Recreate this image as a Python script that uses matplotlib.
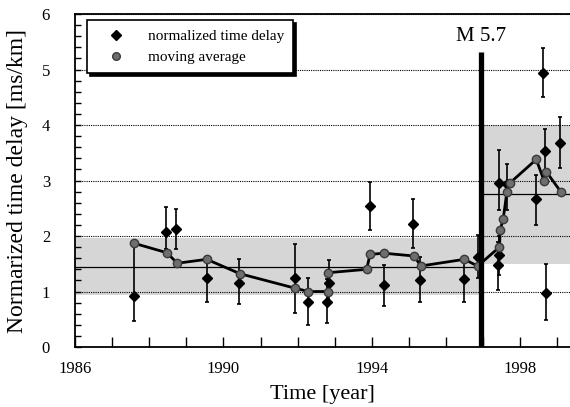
import matplotlib
matplotlib.use('Agg')
import matplotlib.pyplot as plt
import numpy as np
from matplotlib.lines import Line2D
from matplotlib.ticker import MultipleLocator

plt.rcParams['font.family'] = ['Liberation Serif', 'DejaVu Serif']

# normalized time delay (diamonds) with error bar limits
delay_year = [1987.59, 1988.45, 1988.72, 1989.55, 1990.43, 1991.93, 1992.29, 1992.80,
              1992.85, 1993.95, 1994.33, 1995.12, 1995.30, 1996.47, 1996.85, 1997.40,
              1997.42, 1997.44, 1997.63, 1998.43, 1998.62, 1998.67, 1998.70, 1999.07]
delay_val = [0.92, 2.08, 2.13, 1.24, 1.16, 1.24, 0.81, 0.82,
             1.16, 2.54, 1.12, 2.22, 1.21, 1.23, 1.63, 1.47,
             1.65, 2.95, 2.93, 2.66, 4.94, 3.54, 0.98, 3.68]
delay_lo = [0.46, 1.76, 1.77, 0.82, 0.77, 0.61, 0.40, 0.44,
            0.80, 2.11, 0.74, 1.78, 0.82, 0.82, 1.25, 1.03,
            1.30, 2.47, 2.47, 2.20, 4.50, 3.05, 0.49, 3.22]
delay_hi = [1.85, 2.52, 2.49, 1.64, 1.58, 1.85, 1.24, 1.22,
            1.57, 2.98, 1.48, 2.67, 1.62, 1.62, 2.02, 1.90,
            2.00, 3.55, 3.30, 3.10, 5.38, 3.92, 1.49, 4.14]

# moving average (circles)
avg_year = [1987.59, 1988.47, 1988.76, 1989.55, 1990.45, 1991.93, 1992.29, 1992.83,
            1992.83, 1993.86, 1993.95, 1994.33, 1995.14, 1995.32, 1996.49, 1996.85,
            1997.44, 1997.46, 1997.54, 1997.64, 1997.71, 1998.43, 1998.64, 1998.70, 1999.09]
avg_val = [1.87, 1.70, 1.51, 1.58, 1.32, 1.06, 1.00, 1.00,
           1.34, 1.40, 1.67, 1.69, 1.64, 1.46, 1.58, 1.46,
           1.80, 2.11, 2.31, 2.80, 2.95, 3.38, 3.00, 3.16, 2.80]

# earthquake and mean / spread before and after it
eq_year = 1996.93
eq_top = 5.32
eq_label = 'M 5.7'
pre_mean, pre_sd = 1.45, 0.52
post_mean, post_sd = 2.75, 1.25
x_start, x_end = 1986, 1999.34

fig = plt.figure(figsize=(5.7, 4.07), dpi=100)
ax = fig.add_axes([0.1316, 0.1474, 0.8684, 0.818])

# shaded spread bands and mean lines
ax.fill_between([x_start, eq_year], pre_mean - pre_sd, pre_mean + pre_sd,
                color='#d6d6d6', lw=0, zorder=0.2)
ax.fill_between([eq_year, x_end], post_mean - post_sd, post_mean + post_sd,
                color='#d6d6d6', lw=0, zorder=0.2)
ax.plot([x_start, eq_year], [pre_mean, pre_mean], color='k', lw=0.9, zorder=1)
ax.plot([eq_year, x_end], [post_mean, post_mean], color='k', lw=0.9, zorder=1)

# data
yv = np.array(delay_val)
yerr = [yv - np.array(delay_lo), np.array(delay_hi) - yv]
ax.errorbar(delay_year, delay_val, yerr=yerr, fmt='D', color='k', ms=5.5,
            elinewidth=1.2, capsize=1.5, capthick=1.2, zorder=3)
ax.plot(avg_year, avg_val, '-o', color='k', lw=2, ms=6,
        markerfacecolor='#6e6e6e', markeredgecolor='#3a3a3a', zorder=4)

# earthquake marker
ax.plot([eq_year, eq_year], [0, eq_top], color='k', lw=3.8, solid_capstyle='butt', zorder=5)
ax.text(eq_year, eq_top + 0.1, eq_label, ha='center', va='bottom', fontsize=15)

ax.set_xlim(x_start, x_end)
ax.set_ylim(0, 6)
ax.set_xticks([1986, 1990, 1994, 1998])
ax.xaxis.set_minor_locator(MultipleLocator(1))
ax.yaxis.set_major_locator(MultipleLocator(1))
ax.yaxis.set_minor_locator(MultipleLocator(0.2))
ax.tick_params(axis='x', which='both', direction='in', length=7, width=1, labelsize=12, pad=10)
ax.tick_params(axis='y', which='both', direction='in', length=4, width=1, labelsize=12, pad=18)
ax.spines['right'].set_visible(False)
for s in ['left', 'bottom', 'top']:
    ax.spines[s].set_linewidth(1.3)

ax.set_axisbelow(True)
ax.yaxis.grid(True, linestyle=(0, (1, 1)), color='k', lw=0.8)

ax.set_xlabel('Time [year]', fontsize=16, labelpad=6)
ax.set_ylabel('Normarized time delay [ms/km]', fontsize=17, labelpad=10)

handles = [Line2D([], [], marker='D', color='k', ls='none', ms=5),
           Line2D([], [], marker='o', ls='none', ms=5.5,
                  markerfacecolor='#6e6e6e', markeredgecolor='#3a3a3a')]
leg = ax.legend(handles, ['normalized time delay', 'moving average'],
                loc='upper left', bbox_to_anchor=(0.024, 0.982), borderaxespad=0,
                fontsize=11, fancybox=False, framealpha=1, edgecolor='k',
                shadow={'color': 'k', 'alpha': 1}, handlelength=2.6, handletextpad=0.8,
                borderpad=0.6, labelspacing=0.5)
leg.get_frame().set_linewidth(1.2)

fig.savefig('out.png', dpi=100)
